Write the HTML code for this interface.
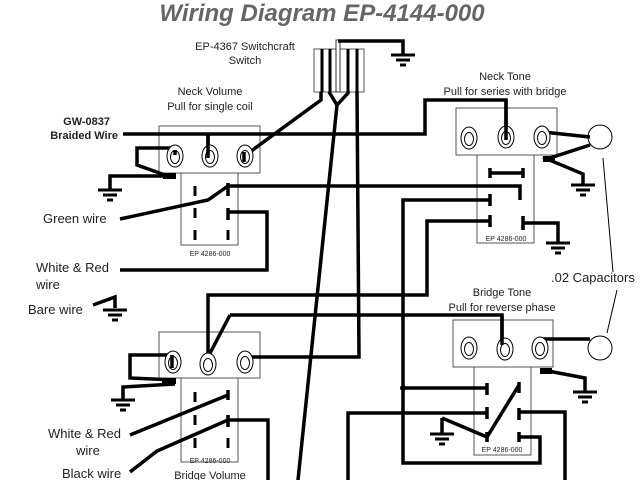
<!DOCTYPE html>
<html><head><style>
html,body{margin:0;padding:0;background:#fff;}
svg{display:block;}
text{font-family:"Liberation Sans",sans-serif;fill:#222;}
</style></head><body>
<svg width="640" height="480" viewBox="0 0 640 480" xmlns="http://www.w3.org/2000/svg">
<defs>
<g id="gnd"><line x1="-12" y1="0" x2="12" y2="0" stroke="#000" stroke-width="3"/><line x1="-7" y1="5" x2="7" y2="5" stroke="#000" stroke-width="3"/><line x1="-3" y1="10" x2="3" y2="10" stroke="#000" stroke-width="3"/></g>
<g id="lug"><ellipse cx="0" cy="0" rx="8" ry="11" fill="#fff" stroke="#000" stroke-width="1"/><ellipse cx="0" cy="1" rx="4.5" ry="6.5" fill="none" stroke="#000" stroke-width="1"/></g>
</defs>
<text x="322" y="21" text-anchor="middle" font-size="24" font-weight="bold" font-style="italic" style="fill:#666">Wiring Diagram EP-4144-000</text>

<g font-size="11" text-anchor="middle">
<text x="245" y="50">EP-4367 Switchcraft</text><text x="245" y="64">Switch</text>
<text x="210" y="95">Neck Volume</text><text x="210" y="110">Pull for single coil</text>
<text x="505" y="80">Neck Tone</text><text x="505" y="95">Pull for series with bridge</text>
<text x="502" y="296">Bridge Tone</text><text x="502" y="311">Pull for reverse phase</text>
<text x="210" y="479">Bridge Volume</text>
</g>
<g font-size="11" font-weight="bold" text-anchor="end">
<text x="110" y="125">GW-0837</text><text x="118" y="139">Braided Wire</text>
</g>
<g font-size="13">
<text x="43" y="223">Green wire</text>
<text x="36" y="272">White &amp; Red</text><text x="36" y="289">wire</text>
<text x="28" y="314">Bare wire</text>
<text x="48" y="438">White &amp; Red</text><text x="76" y="455">wire</text>
<text x="62" y="478">Black wire</text>
<text x="551" y="282">.02 Capacitors</text>
</g>
<g font-size="7" text-anchor="middle"><text x="210" y="256">EP 4286-000</text><text x="506" y="241">EP 4286-000</text><text x="210" y="463">EP 4286-000</text><text x="502" y="452">EP 4286-000</text></g>

<!-- boxes -->
<g fill="none" stroke="#555" stroke-width="1">
<rect x="159" y="126" width="101" height="47"/><rect x="181" y="173" width="57" height="72"/>
<rect x="456" y="108" width="101" height="47"/><rect x="477" y="155" width="57" height="88"/>
<rect x="453" y="320" width="100" height="47"/><rect x="474" y="367" width="57" height="88"/>
<rect x="159" y="332" width="101" height="46"/><rect x="181" y="378" width="57" height="84"/>
<rect x="314" y="49" width="50" height="43"/>
</g>
<!-- switch internals -->
<g stroke="#000" stroke-width="3" fill="none">
<line x1="322" y1="49" x2="322" y2="92"/><line x1="330" y1="49" x2="330" y2="92"/>
<line x1="348" y1="49" x2="348" y2="92"/><line x1="357" y1="49" x2="357" y2="92"/>
</g>
<rect x="336" y="40" width="4" height="52" fill="#fff" stroke="#333" stroke-width="1"/>
<circle cx="600" cy="137" r="12" fill="#fff" stroke="#000"/>
<circle cx="600" cy="348" r="12" fill="#fff" stroke="#000"/>
<g stroke="#000" stroke-width="1"><line x1="603" y1="158" x2="613" y2="272"/><line x1="617" y1="290" x2="607" y2="333"/></g>

<g stroke="#000" stroke-width="3.5" fill="none" stroke-linejoin="miter">
<!-- switch wiring -->
<polyline points="338,41 403,41 403,55"/>
<polyline points="321,92 321,100 243,157"/>
<polyline points="329,92 337,105 349,92"/>
<line x1="337" y1="105" x2="298" y2="480"/>
<polyline points="357,92 359,357 245,357"/>
<!-- braided -->
<polyline points="123,134 425,134 425,100 506,100 506,133"/>
<line x1="208" y1="134" x2="208" y2="155"/>
<!-- neck vol left -->
<polyline points="175,148 137,148 137,165 165,175"/>
<line x1="163" y1="176" x2="176" y2="176" stroke-width="6"/>
<polyline points="175,176 110,176 110,190"/>
<!-- green -->
<polyline points="120,219 208,200 228,186"/>
<line x1="228" y1="183" x2="228" y2="196"/>
<polyline points="228,186 520,186 520,200"/>
<line x1="228" y1="208" x2="228" y2="220"/>
<polyline points="228,212 267,212 267,270 120,270"/>
<!-- neck tone switch -->
<line x1="490" y1="173" x2="523" y2="173"/><line x1="490" y1="168" x2="490" y2="178"/><line x1="523" y1="168" x2="523" y2="178"/>
<line x1="490" y1="194" x2="490" y2="206"/><polyline points="490,200 403,200 403,463 540,463 540,437 519,437"/>
<line x1="490" y1="215" x2="490" y2="227"/><polyline points="490,221 427,221 427,295 208,295 208,357"/>
<line x1="523" y1="216" x2="523" y2="230"/><polyline points="523,223 558,223 558,243"/>
<polyline points="230,315 502,315 502,340"/><line x1="208" y1="357" x2="230" y2="315"/>
<!-- neck tone right lug -->
<line x1="543" y1="132" x2="590" y2="137"/>
<polyline points="590,145 547,159 583,174 583,185"/>
<line x1="543" y1="159" x2="555" y2="159" stroke-width="6"/>
<!-- bridge tone -->
<line x1="540" y1="339" x2="590" y2="339"/>
<polyline points="548,371 585,378 585,392"/>
<line x1="540" y1="371" x2="552" y2="371" stroke-width="6"/>
<line x1="403" y1="388" x2="487" y2="388"/>
<line x1="487" y1="383" x2="487" y2="395"/>
<polyline points="348,480 348,413 487,413"/><line x1="487" y1="407" x2="487" y2="419"/>
<polyline points="442,418 487,437 519,385"/><line x1="487" y1="432" x2="487" y2="442"/>
<line x1="442" y1="418" x2="442" y2="434"/>
<line x1="519" y1="382" x2="519" y2="393"/>
<line x1="519" y1="408" x2="519" y2="420"/><polyline points="519,412 565,412 565,480"/>
<line x1="519" y1="432" x2="519" y2="442"/>
<!-- bridge vol -->
<polyline points="173,355 130,355 130,378 175,380"/>
<line x1="162" y1="381" x2="176" y2="381" stroke-width="6"/>
<polyline points="175,384 123,387 123,400"/>
<polyline points="130,435 228,395"/><line x1="228" y1="390" x2="228" y2="400"/>
<polyline points="130,472 157,451 228,420"/><line x1="228" y1="415" x2="228" y2="427"/>
<polyline points="228,420 268,420 268,480"/>
<!-- bare -->
<polyline points="93,305 115,297 115,308"/>
</g>
<!-- dashes -->
<g stroke="#000" stroke-width="3">
<line x1="195" y1="186" x2="195" y2="196"/><line x1="195" y1="208" x2="195" y2="218"/><line x1="195" y1="230" x2="195" y2="240"/>
<line x1="228" y1="230" x2="228" y2="240"/>
<line x1="195" y1="392" x2="195" y2="402"/><line x1="195" y1="415" x2="195" y2="425"/><line x1="195" y1="438" x2="195" y2="448"/>
<line x1="228" y1="438" x2="228" y2="448"/>
</g>
<circle cx="403" cy="388" r="3"/>
<!-- lugs -->
<use href="#lug" x="175" y="156"/><use href="#lug" x="210" y="156"/><use href="#lug" x="245" y="156"/>
<use href="#lug" x="469" y="138"/><use href="#lug" x="506" y="137"/><use href="#lug" x="542" y="137"/>
<use href="#lug" x="469" y="348"/><use href="#lug" x="505" y="349"/><use href="#lug" x="540" y="348"/>
<use href="#lug" x="173" y="362"/><use href="#lug" x="208" y="364"/><use href="#lug" x="245" y="362"/>
<g stroke="#000" stroke-width="3.5">
<line x1="208" y1="134" x2="208" y2="158"/><line x1="506" y1="100" x2="506" y2="140"/><line x1="502" y1="315" x2="502" y2="345"/>
<line x1="175" y1="150" x2="175" y2="155"/><line x1="172" y1="355" x2="172" y2="368"/><line x1="244" y1="152" x2="244" y2="162"/>
</g>
<!-- grounds -->
<use href="#gnd" x="403" y="55"/><use href="#gnd" x="110" y="190"/><use href="#gnd" x="583" y="185"/>
<use href="#gnd" x="558" y="243"/><use href="#gnd" x="115" y="310"/><use href="#gnd" x="585" y="392"/>
<use href="#gnd" x="442" y="434"/><use href="#gnd" x="123" y="400"/>
</svg>
</body></html>
